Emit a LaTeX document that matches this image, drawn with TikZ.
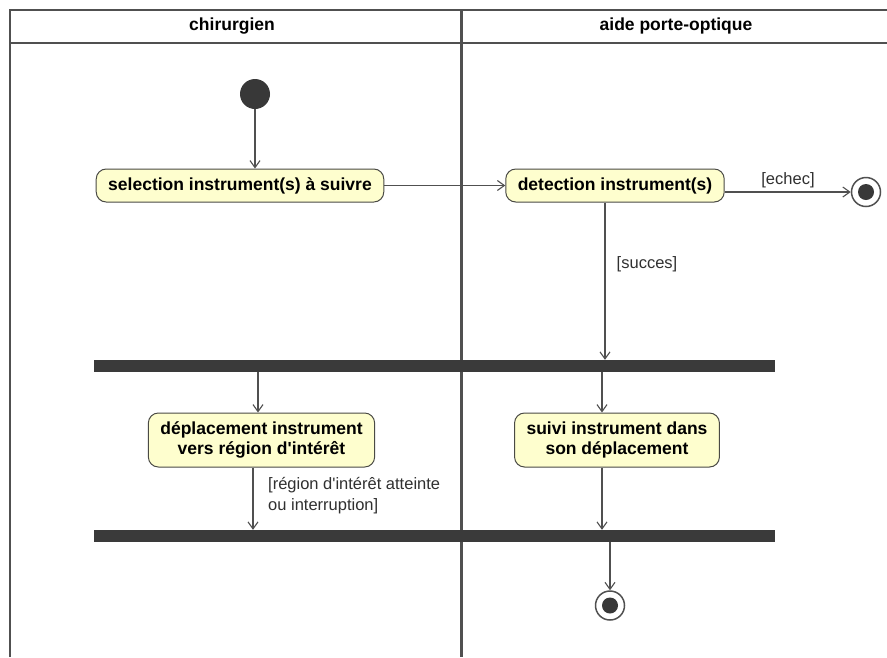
\documentclass[tikz,border=0pt]{standalone}
\usepackage{fontspec}
\setmainfont{Liberation Sans}[Ligatures=TeXOff]
\usetikzlibrary{arrows.meta}

\definecolor{actfill}{HTML}{FEFECE}
\definecolor{actline}{HTML}{4A4A45}
\definecolor{laneline}{HTML}{505050}
\definecolor{barcol}{HTML}{3A3A3A}
\definecolor{flowcol}{HTML}{505050}
\definecolor{dotcol}{HTML}{383838}
\definecolor{guardcol}{HTML}{303030}

\tikzset{
  lane/.style={draw=laneline, line width=2pt},
  lanediv/.style={draw=laneline, line width=3pt},
  lanehead/.style={font=\bfseries\fontsize{17.5}{20}\selectfont, inner sep=0pt},
  action/.style={draw=actline, fill=actfill, line width=1pt, rounded corners=10pt,
    align=center, font=\bfseries\fontsize{17.5}{20}\selectfont,
    inner xsep=12pt, inner ysep=0pt, minimum height=33pt},
  syncbar/.style={fill=barcol, draw=none, rectangle, inner sep=0pt,
    minimum width=681pt, minimum height=12pt},
  startdot/.style={circle, fill=dotcol, draw=none, minimum size=30pt, inner sep=0pt},
  enddot/.style={circle, draw=laneline, line width=1.5pt, fill=white,
    minimum size=29pt, inner sep=0pt,
    path picture={\fill[dotcol] (path picture bounding box.center) circle (8pt);}},
  flow/.style={draw=flowcol, line width=1.1pt, -{Straight Barb[length=7pt,width=10pt]}},
  guard/.style={font=\fontsize{16.5}{21}\selectfont, text=guardcol, inner sep=0pt}
}

\begin{document}
\begin{tikzpicture}[x=1pt,y=-1pt]
\useasboundingbox (0,0) rectangle (887,657);
\fill[white] (0,0) rectangle (887,657);

% swimlane frame and headers
\draw[lane] (10,657) -- (10,10) -- (887,10);
\draw[lane] (10,43) -- (887,43);
\draw[lanediv] (461,10) -- (461,657);
\node[lanehead] (hchir) at (232,26) {chirurgien};
\node[lanehead] (haide) at (676,26) {aide porte-optique};

% activity nodes
\node[startdot] (init) at (255,94) {};
\node[action] (sel) at (240,185.5) {selection instrument(s) à suivre};
\node[action] (det) at (615,185.5) {detection instrument(s)};
\node[enddot] (fin1) at (866,192) {};
\node[syncbar] (fork) at (434.5,366) {};
\node[action, minimum height=54pt] (dep) at (261.5,440) {déplacement instrument\\vers région d'intérêt};
\node[action, minimum height=54pt] (suivi) at (617,440) {suivi instrument dans\\son déplacement};
\node[syncbar] (join) at (434.5,536) {};
\node[enddot] (fin2) at (610,605.5) {};

% guard labels
\node[guard] (gechec) at (788,180) {[echec]};
\node[guard] (gsucces) at (647,264) {[succes]};
\node[guard, align=left, anchor=north west] (gregion) at (268,477) {[région d'intérêt atteinte\\ou interruption]};

% x positions of vertical connectors
\coordinate (xa) at (258,0);
\coordinate (xb) at (605,0);
\coordinate (xc) at (602,0);
\coordinate (xd) at (253,0);

% connectors
\draw[flow] (init) -- (init |- sel.north);
\draw[flow] (sel.east) -- (det.west);
\draw[flow] (det.east |- fin1.west) -- (fin1.west);
\draw[flow] (det.south -| xb) -- (fork.north -| xb);
\draw[flow] (fork.south -| xa) -- (dep.north -| xa);
\draw[flow] (fork.south -| xc) -- (suivi.north -| xc);
\draw[flow] (dep.south -| xd) -- (join.north -| xd);
\draw[flow] (suivi.south -| xc) -- (join.north -| xc);
\draw[flow] (join.south -| fin2) -- (fin2.north);
\end{tikzpicture}
\end{document}
